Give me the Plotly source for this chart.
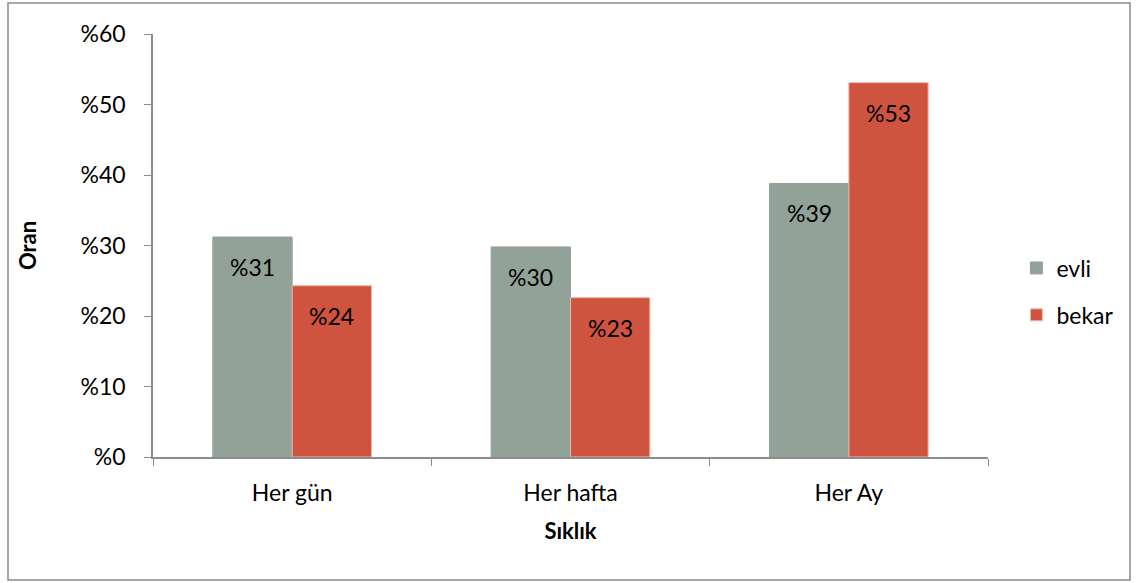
import plotly.graph_objects as go

categories = ["Her gün", "Her hafta", "Her Ay"]
evli = [31.2, 29.8, 38.8]
bekar = [24.3, 22.6, 53.1]

FONT = "Lato"
AXIS_GRAY = "#8c8c8c"

W, H = 1139, 583
L, R, T, B = 153, 151, 34, 126
pw, ph = W - L - R, H - T - B
BARGAP = 0.43
# horizontal offset (px) of each bar centre from its category centre
half = (1 - BARGAP) * (pw / len(categories)) / 4

fig = go.Figure()
series = [
    ("evli", evli, "#93a299", "#93a299", -half),
    ("bekar", bekar, "#cf543f", "#f0b8ad", half),
]
for name, vals, color, edge, shift in series:
    fig.add_trace(go.Bar(
        x=categories, y=vals, name=name, legendgroup=name,
        marker=dict(color=color, line=dict(color=edge, width=1)),
    ))
    # value labels a little below each bar top
    for cat, v in zip(categories, vals):
        fig.add_annotation(
            x=cat, y=v, xref="x", yref="y", text=f"%{round(v)}",
            showarrow=False, xshift=shift, yshift=-30,
            xanchor="center", yanchor="middle",
            font=dict(family=FONT, size=23, color="black"),
        )

# outer frame around the whole chart
fig.add_shape(
    type="rect", xref="paper", yref="paper",
    x0=(8 - L) / pw, x1=(1130 - L) / pw,
    y0=(H - B - 580) / ph, y1=(H - B - 3) / ph,
    line=dict(color="#8a8a8a", width=1.5), fillcolor="rgba(0,0,0,0)", layer="below",
)

fig.update_layout(
    width=W, height=H,
    margin=dict(l=L, r=R, t=T, b=B),
    paper_bgcolor="white", plot_bgcolor="white",
    barmode="group", bargap=BARGAP, bargroupgap=0,
    font=dict(family=FONT, size=23, color="black"),
    showlegend=True,
    legend=dict(x=1.034, y=(H - B - 291.5) / ph, xanchor="left", yanchor="middle",
                font=dict(family=FONT, size=23), itemwidth=30,
                tracegroupgap=14, bgcolor="rgba(0,0,0,0)"),
    xaxis=dict(
        showline=True, linecolor=AXIS_GRAY, linewidth=1.5,
        ticks="outside", tickson="boundaries", ticklen=7, tickcolor=AXIS_GRAY,
        ticklabelstandoff=15, showgrid=False,
        title=dict(text="<b>Sıklık</b>", font=dict(family=FONT, size=22), standoff=18),
    ),
    yaxis=dict(
        range=[0, 60], dtick=10, tickprefix="%",
        showline=True, linecolor=AXIS_GRAY, linewidth=1.5,
        ticks="outside", ticklen=7, tickcolor=AXIS_GRAY,
        ticklabelstandoff=14, showgrid=False, zeroline=False,
        title=dict(text="<b>Oran</b>", font=dict(family=FONT, size=22), standoff=38),
    ),
)

fig.write_html("out.html")
